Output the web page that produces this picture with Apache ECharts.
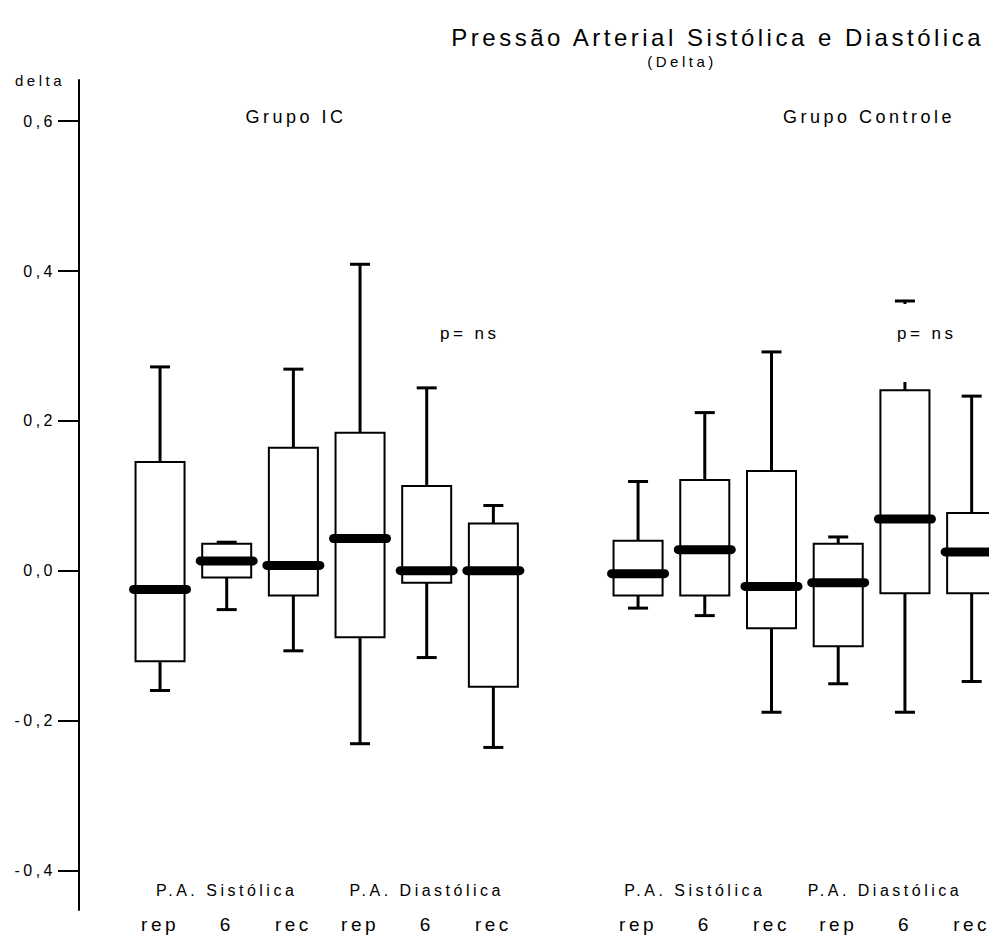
<!DOCTYPE html>
<html>
<head>
<meta charset="utf-8">
<script src="https://cdn.jsdelivr.net/npm/echarts@6/dist/echarts.min.js"></script>
<style>
  html, body { margin: 0; padding: 0; background: #fff; }
  #chart { width: 989px; height: 941px; }
  /* o original usa texto espacado */
  #chart text { letter-spacing: 3.5px; }
</style>
</head>
<body>
<div id="chart"></div>
<script>
// categorias (momentos) e medidas
var categories = ['rep', '6', 'rec', 'rep', '6', 'rec'];
var measures = ['P.A. Sistólica', 'P.A. Diastólica'];
var yTicks = [-0.4, -0.2, 0, 0.2, 0.4, 0.6];

// Grupo IC: minimo, Q1, mediana, Q3, maximo
var icLow    = [-0.160, -0.052, -0.107, -0.231, -0.116, -0.236];
var icQ1     = [-0.121, -0.009, -0.033, -0.089, -0.016, -0.155];
var icMedian = [-0.025,  0.013,  0.007,  0.043,  0.000,  0.000];
var icQ3     = [ 0.145,  0.036,  0.164,  0.184,  0.113,  0.063];
var icHigh   = [ 0.272,  0.038,  0.269,  0.409,  0.244,  0.087];

// Grupo Controle
var ctLow    = [-0.050, -0.060, -0.189, -0.151, -0.189, -0.148];
var ctQ1     = [-0.033, -0.033, -0.077, -0.101, -0.030, -0.030];
var ctMedian = [-0.004,  0.028, -0.021, -0.016,  0.069,  0.025];
var ctQ3     = [ 0.040,  0.121,  0.133,  0.036,  0.241,  0.077];
var ctHigh   = [ 0.119,  0.211,  0.292,  0.045,  0.360,  0.233];

var FONT = '"Liberation Sans", Arial, sans-serif';

function toRows(lo, q1, md, q3, hi) {
    return lo.map(function (v, i) {
        return [i, v, q1[i], md[i], q3[i], hi[i]];
    });
}

function renderBox(params, api) {
    var idx = api.value(0);
    var lo = api.coord([idx, api.value(1)]);
    var q1 = api.coord([idx, api.value(2)]);
    var md = api.coord([idx, api.value(3)]);
    var q3 = api.coord([idx, api.value(4)]);
    var hi = api.coord([idx, api.value(5)]);
    var band = api.size([1, 0])[0];
    var bw = band * 0.735;
    var cw = band * 0.3;
    var x = lo[0];
    var thin = {stroke: '#000', lineWidth: 3};
    return {
        type: 'group',
        children: [
            {type: 'line', shape: {x1: x, y1: q3[1], x2: x, y2: hi[1]}, style: thin},
            {type: 'line', shape: {x1: x, y1: q1[1], x2: x, y2: lo[1]}, style: thin},
            {type: 'line', shape: {x1: x - cw / 2, y1: hi[1], x2: x + cw / 2, y2: hi[1]}, style: thin},
            {type: 'line', shape: {x1: x - cw / 2, y1: lo[1], x2: x + cw / 2, y2: lo[1]}, style: thin},
            {type: 'rect', shape: {x: x - bw / 2, y: q3[1], width: bw, height: q1[1] - q3[1]},
                style: {fill: '#fff', stroke: '#000', lineWidth: 2}},
            {type: 'line', shape: {x1: x - bw / 2 - 2, y1: md[1], x2: x + bw / 2 + 2, y2: md[1]},
                style: {stroke: '#000', lineWidth: 9, lineCap: 'round'}}
        ]
    };
}

var yMin = -0.453, yMax = 0.655;
// o grupo controle sai pela borda direita: eixo de valores com o mesmo passo do grupo IC
var ctMin = -0.5, ctMax = 5.26;

var labelStyle = {color: '#000', fontSize: 19, fontFamily: FONT, margin: 5};
var measureStyle = {inside: true, color: '#000', fontSize: 16, fontFamily: FONT, margin: 12};

var option = {
    backgroundColor: '#fff',
    animation: false,
    title: [
        {
            text: 'Pressão Arterial Sistólica e Diastólica',
            left: 979, top: 20, textAlign: 'right',
            textStyle: {fontSize: 24, fontWeight: 'normal', color: '#000', fontFamily: FONT}
        },
        {
            text: '(Delta)', left: 677, top: 49, textAlign: 'center',
            textStyle: {fontSize: 15, fontWeight: 'normal', color: '#000', fontFamily: FONT}
        },
        {
            text: 'Grupo IC', left: 291, top: 103, textAlign: 'center',
            textStyle: {fontSize: 18, fontWeight: 'normal', color: '#000', fontFamily: FONT}
        },
        {
            text: 'Grupo Controle', left: 864, top: 103, textAlign: 'center',
            textStyle: {fontSize: 18, fontWeight: 'normal', color: '#000', fontFamily: FONT}
        }
    ],
    grid: [
        {left: 126.7, width: 400, top: 80, bottom: 31},
        {left: 604.7, right: 0, top: 80, bottom: 31}
    ],
    xAxis: [
        {
            type: 'category', gridIndex: 0, data: categories,
            axisLine: {show: false}, axisTick: {show: false}, axisLabel: labelStyle
        },
        {
            type: 'category', gridIndex: 0, data: measures, position: 'bottom',
            axisLine: {show: false}, axisTick: {show: false}, axisLabel: measureStyle
        },
        {
            type: 'value', gridIndex: 1, min: ctMin, max: ctMax, splitLine: {show: false},
            axisLine: {show: false}, axisTick: {show: false},
            axisLabel: Object.assign({}, labelStyle, {
                customValues: [0, 1, 2, 3, 4, 5],
                formatter: function (v) { return categories[Math.round(v)]; }
            })
        },
        {
            type: 'value', gridIndex: 1, min: ctMin, max: ctMax, position: 'bottom', splitLine: {show: false},
            axisLine: {show: false}, axisTick: {show: false},
            axisLabel: Object.assign({}, measureStyle, {
                customValues: [0.85, 3.7],
                formatter: function (v) { return measures[v > 2 ? 1 : 0]; }
            })
        }
    ],
    yAxis: [
        {
            type: 'value', gridIndex: 0, min: yMin, max: yMax, offset: 47.7,
            name: 'delta', nameLocation: 'end', nameGap: 0,
            nameTextStyle: {color: '#000', fontSize: 15, fontFamily: FONT, align: 'right',
                verticalAlign: 'middle', padding: [0, 14, 4, 0]},
            axisLine: {show: true, lineStyle: {color: '#000', width: 2}},
            axisTick: {show: true, length: 21, lineStyle: {color: '#000', width: 2}, customValues: yTicks},
            axisLabel: {
                color: '#000', fontSize: 16, fontFamily: FONT, margin: 23, customValues: yTicks,
                formatter: function (v) { return v.toFixed(1).replace('.', ','); }
            },
            splitLine: {show: false}
        },
        {type: 'value', gridIndex: 1, min: yMin, max: yMax, show: false, splitLine: {show: false}}
    ],
    graphic: [
        {type: 'text', left: 440, top: 325, z: 100,
            style: {text: 'p= ns', fontSize: 17, fontFamily: FONT, fill: '#000'}},
        {type: 'text', left: 892, top: 304, z: 100,
            style: {text: 'p= ns', fontSize: 17, fontFamily: FONT, fill: '#000',
                backgroundColor: '#fff', padding: [21, 5, 40, 5]}}
    ],
    series: [
        {
            type: 'custom', name: 'Grupo IC', xAxisIndex: 0, yAxisIndex: 0,
            renderItem: renderBox, encode: {x: 0, y: [1, 2, 3, 4, 5]},
            data: toRows(icLow, icQ1, icMedian, icQ3, icHigh)
        },
        {
            type: 'custom', name: 'Grupo Controle', xAxisIndex: 2, yAxisIndex: 1,
            renderItem: renderBox, encode: {x: 0, y: [1, 2, 3, 4, 5]},
            data: toRows(ctLow, ctQ1, ctMedian, ctQ3, ctHigh)
        }
    ]
};

var myChart = echarts.init(document.getElementById('chart'), null, {renderer: 'svg'});
myChart.setOption(option);
</script>
</body>
</html>
